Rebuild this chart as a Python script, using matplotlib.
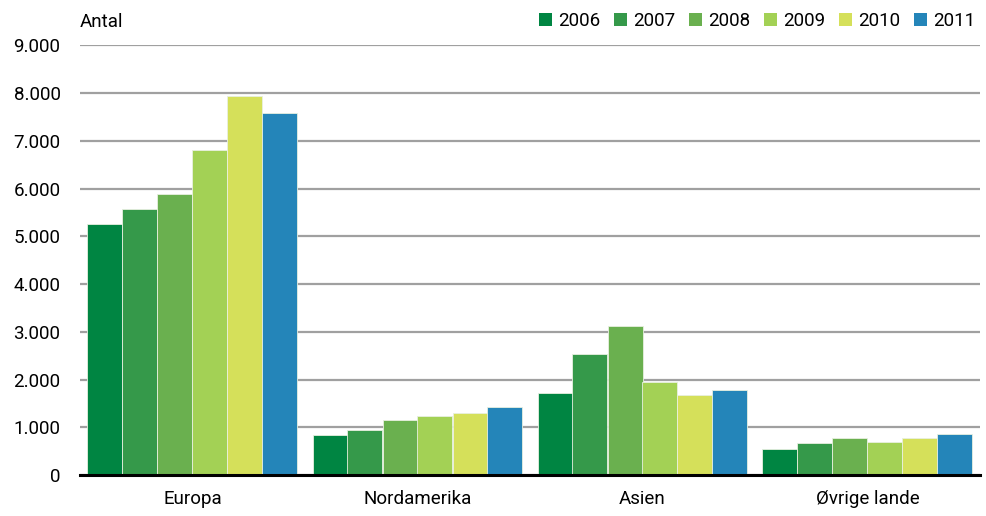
import matplotlib
matplotlib.use("Agg")
import matplotlib.pyplot as plt
import numpy as np
from matplotlib.patches import Patch
from matplotlib.ticker import FuncFormatter

plt.rcParams['font.family'] = ['Roboto', 'DejaVu Sans']

# Data
regions = ["Europa", "Nordamerika", "Asien", "Øvrige lande"]
years = ["2006", "2007", "2008", "2009", "2010", "2011"]
values_2006 = [5260, 838, 1725, 538]
values_2007 = [5570, 945, 2536, 664]
values_2008 = [5880, 1153, 3122, 769]
values_2009 = [6810, 1237, 1949, 698]
values_2010 = [7940, 1306, 1683, 769]
values_2011 = [7580, 1432, 1781, 866]
series = [values_2006, values_2007, values_2008, values_2009, values_2010, values_2011]

colors = ["#008542", "#35994a", "#6ab04f", "#a3d155", "#d5e05a", "#2485b9"]

fig = plt.figure(figsize=(9.87, 5.16), dpi=100)
ax = fig.add_axes([80 / 987, 1 - 475 / 516, 900 / 987, (475 - 45.5) / 516])

x = np.arange(len(regions))
bar_w = 35 / 225
for i, vals in enumerate(series):
    offset = (i - 2.5) * bar_w
    ax.bar(x + offset, vals, width=bar_w, color=colors[i],
           edgecolor="#e8f0e0", linewidth=0.6, zorder=3)

ax.set_xlim(-0.5, len(regions) - 0.5)
ax.set_ylim(0, 9000)
ax.set_yticks(range(0, 9001, 1000))
ax.yaxis.set_major_formatter(FuncFormatter(lambda v, p: f"{int(v):,}".replace(",", ".")))
ax.set_xticks(x)
ax.set_xticklabels(regions)

ax.grid(axis="y", color="#a0a0a0", linewidth=1.6, zorder=0)
ax.set_axisbelow(True)
for s in ["left", "right", "top"]:
    ax.spines[s].set_visible(False)
ax.spines["bottom"].set_color("black")
ax.spines["bottom"].set_linewidth(2.2)
ax.spines["bottom"].set_zorder(4)
ax.tick_params(axis="both", length=0, labelsize=13.5)
ax.tick_params(axis="y", pad=14)
ax.tick_params(axis="x", pad=11)

fig.text(80 / 987, 1 - 22 / 516, "Antal", fontsize=13.5, va="center", ha="left")

handles = [Patch(facecolor=c, label=y) for c, y in zip(colors, years)]
fig.legend(handles=handles, loc="center right", bbox_to_anchor=(975 / 987, 1 - 21 / 516),
           ncol=6, frameon=False, fontsize=13.5, handlelength=0.7, handleheight=0.7,
           handletextpad=0.3, columnspacing=0.75, borderaxespad=0, borderpad=0)

fig.savefig("out.png", dpi=100)
